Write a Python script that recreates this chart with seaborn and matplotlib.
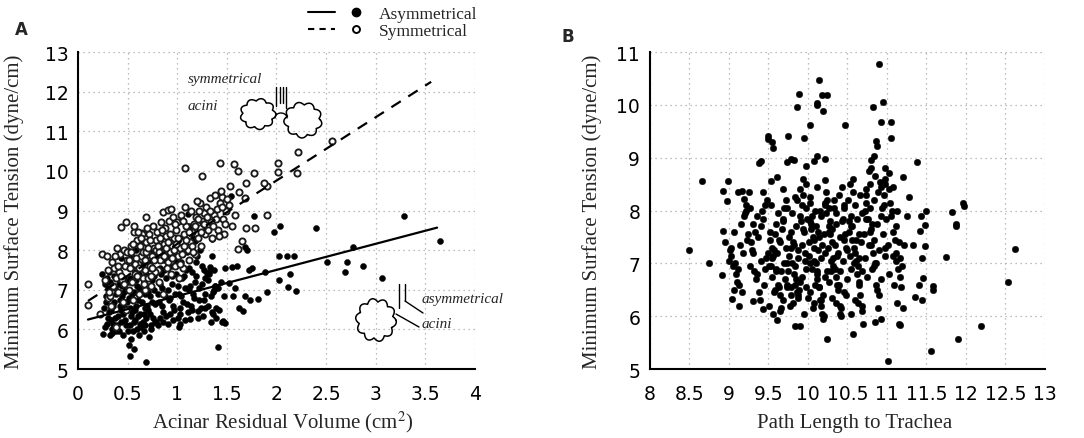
import numpy as np
import matplotlib
matplotlib.use("Agg")
import matplotlib.pyplot as plt
import seaborn as sns
from matplotlib.lines import Line2D
from matplotlib.legend_handler import HandlerTuple

# ---------------- Panel A: acinar residual volume vs minimum surface tension
# asymmetrical acini (filled dots)
asym_volume = [
    3.29, 3.65, 3.06, 2.87, 2.71, 2.69, 2.77, 2.51, 2.40, 2.20,
    2.12, 2.14, 2.03, 2.03, 2.11, 2.18, 2.04, 1.98, 1.90, 1.88,
    1.81, 1.77, 1.41, 0.69, 0.52,
    1.55, 1.60, 1.68, 1.70, 1.56, 1.46, 1.48, 1.66, 1.68, 1.73,
    1.38, 1.35, 1.36, 1.28, 1.21, 1.15, 1.13, 1.03, 1.03, 1.33,
    1.32, 1.30, 1.27, 1.35, 1.35, 1.18, 1.10, 1.11, 1.31, 1.55,
    1.54, 1.52, 1.58, 1.62, 1.75, 1.72,
    0.25, 0.27, 0.28, 0.24, 0.27, 0.30, 0.29,
    0.32, 0.34, 0.35, 0.33, 0.36, 0.38, 0.32, 0.36, 0.39, 0.37, 0.34, 0.39,
    0.41, 0.43, 0.45, 0.42, 0.47, 0.44, 0.48, 0.41, 0.46, 0.49, 0.43, 0.48, 0.45, 0.47,
    0.51, 0.53, 0.55, 0.52, 0.57, 0.54, 0.58, 0.51, 0.56, 0.59, 0.52, 0.57, 0.55, 0.53,
    0.58, 0.60, 0.56, 0.59,
    0.61, 0.63, 0.65, 0.62, 0.67, 0.64, 0.68, 0.61, 0.66, 0.69, 0.63, 0.67, 0.65, 0.62,
    0.69, 0.66,
    0.72, 0.74, 0.76, 0.71, 0.78, 0.73, 0.77, 0.75, 0.79, 0.72, 0.76, 0.74, 0.78,
    0.81, 0.83, 0.86, 0.82, 0.88, 0.85, 0.89, 0.83, 0.87, 0.84, 0.86,
    0.91, 0.93, 0.96, 0.92, 0.98, 0.95, 0.99, 0.94, 0.97, 0.92,
    1.01, 1.03, 1.06, 1.02, 1.08, 1.05, 1.09, 1.04, 1.07, 1.03,
    1.11, 1.14, 1.17, 1.12, 1.18, 1.15, 1.19, 1.13, 1.16,
    1.21, 1.24, 1.27, 1.22, 1.28, 1.25, 1.23, 1.26, 1.29,
    1.31, 1.34, 1.37, 1.32, 1.38, 1.36, 1.39,
    1.41, 1.44, 1.47, 1.42, 1.48, 1.45,
]
asym_tension = [
    8.86, 8.23, 7.30, 7.60, 7.70, 7.45, 8.07, 7.70, 8.56, 6.98,
    7.06, 7.40, 7.25, 7.86, 7.86, 7.86, 8.62, 8.46, 6.95, 7.45,
    6.77, 8.86, 5.56, 5.17, 5.33,
    7.58, 7.60, 8.08, 8.00, 6.84, 6.21, 6.17, 6.46, 6.85, 6.75,
    7.10, 6.44, 6.40, 6.90, 6.47, 6.50, 6.27, 6.39, 6.14, 7.58,
    7.45, 7.43, 7.50, 7.85, 8.28, 8.23, 7.95, 8.91, 8.91, 8.60,
    9.37, 7.18, 7.05, 6.55, 7.55, 7.50,
    5.88, 6.05, 6.70, 7.40, 7.15, 6.30, 7.30,
    5.85, 6.00, 6.15, 6.50, 6.70, 6.90, 7.20, 7.35, 7.50, 6.30, 5.90, 6.10,
    5.95, 6.20, 6.40, 6.60, 6.55, 6.85, 7.00, 7.15, 7.30, 7.60, 7.80, 6.10, 5.85, 8.00,
    5.60, 5.75, 5.95, 6.10, 6.25, 6.45, 6.60, 6.80, 6.95, 7.10, 7.30, 7.45, 7.70, 7.85,
    8.00, 6.35, 5.50, 6.00,
    5.85, 6.05, 6.20, 6.40, 6.55, 6.70, 6.90, 7.05, 7.20, 7.40, 7.60, 7.80, 8.10, 8.15,
    6.30, 5.95,
    5.80, 6.10, 6.30, 6.50, 6.65, 6.85, 7.00, 7.25, 7.45, 7.70, 7.95, 6.00, 6.20,
    6.10, 6.30, 6.45, 6.70, 6.85, 7.05, 7.30, 7.55, 7.75, 8.00, 6.20,
    6.15, 6.40, 6.60, 6.75, 6.90, 7.15, 7.40, 7.60, 7.90, 8.20,
    6.30, 6.55, 6.70, 6.90, 7.05, 7.30, 7.50, 7.70, 8.00, 8.30,
    6.45, 6.60, 6.80, 7.00, 7.20, 7.45, 7.70, 8.60, 8.30,
    6.30, 6.55, 6.75, 7.05, 7.30, 7.60, 8.00, 8.50, 8.95,
    6.60, 6.20, 7.00, 7.40, 7.10, 6.95, 6.55,
    7.05, 7.20, 6.85, 6.50, 7.55, 6.20,
]
# the dark core of the asymmetrical cloud
asym_core_volume = [
    0.26, 0.28, 0.30, 0.31, 0.33, 0.35, 0.37, 0.40, 0.42, 0.44, 0.29, 0.38, 0.43, 0.46, 0.31,
    0.47, 0.49, 0.50, 0.52, 0.54, 0.56, 0.58, 0.60, 0.62, 0.64,
    0.66, 0.68, 0.70, 0.50, 0.55, 0.61, 0.65, 0.67, 0.53, 0.57,
    0.71, 0.73, 0.75, 0.77, 0.79, 0.81, 0.83, 0.85, 0.87, 0.89,
    0.91, 0.93, 0.95, 0.97, 0.99, 0.72, 0.78, 0.84, 0.90, 0.96,
    1.01, 1.04, 1.07, 1.10, 1.13, 1.16, 1.19, 1.22, 1.25, 1.28,
    1.31, 1.34, 1.37, 1.05, 1.12, 1.20, 1.26, 1.02, 1.08, 1.39,
]
asym_core_tension = [
    6.55, 6.85, 7.05, 6.45, 6.25, 6.60, 7.05, 6.35, 6.75, 7.10, 6.15, 5.95, 6.50, 6.95, 7.45,
    6.25, 6.70, 7.20, 6.55, 6.90, 6.20, 7.25, 6.75, 6.15, 6.95,
    6.40, 7.15, 6.60, 5.95, 7.60, 7.40, 7.65, 6.10, 6.35, 6.50,
    6.95, 6.40, 6.70, 7.35, 6.20, 6.90, 7.15, 6.60, 7.50, 6.35,
    7.00, 6.80, 7.35, 6.50, 7.70, 7.55, 7.85, 7.40, 7.85, 6.25,
    7.10, 6.85, 7.35, 6.65, 7.10, 6.90, 7.35, 6.75, 7.15, 6.55,
    7.25, 6.85, 7.50, 7.90, 7.55, 7.85, 6.35, 6.05, 6.25, 6.30,
]

# symmetrical acini (open circles)
sym_volume = [
    2.56, 2.22, 2.02, 2.02, 2.21, 1.90, 1.87, 1.77, 1.69, 1.57,
    1.61, 1.43, 1.25, 1.08, 1.53, 1.62, 1.68, 1.45, 1.33, 1.90,
    1.23, 0.86, 0.91, 0.69, 1.69, 1.78, 1.65, 1.61, 0.43, 0.48,
    0.56, 0.64, 0.24, 0.29, 0.10, 0.10, 0.22, 0.30,
    0.32, 0.35, 0.38, 0.41, 0.44, 0.47, 0.36, 0.42, 0.46, 0.49, 0.33, 0.40, 0.45, 0.48, 0.38,
    0.51, 0.54, 0.57, 0.60, 0.63, 0.66, 0.69, 0.52, 0.58, 0.62, 0.65, 0.68, 0.55, 0.61,
    0.67, 0.64, 0.53, 0.59,
    0.71, 0.73, 0.75, 0.77, 0.79, 0.81, 0.83, 0.85, 0.87, 0.89, 0.72, 0.76, 0.80, 0.84,
    0.88, 0.74, 0.82, 0.86, 0.78,
    0.91, 0.93, 0.95, 0.97, 0.99, 1.01, 1.03, 1.05, 1.07, 1.09, 0.92, 0.96, 1.00, 1.04,
    0.94, 0.98, 1.02, 1.06, 1.08,
    1.11, 1.13, 1.15, 1.17, 1.19, 1.21, 1.23, 1.25, 1.27, 1.29, 1.12, 1.18, 1.24, 1.14,
    1.20, 1.28,
    1.31, 1.34, 1.37, 1.40, 1.43, 1.46, 1.49, 1.52, 1.55, 1.58, 1.35, 1.41, 1.47, 1.38,
    1.44, 1.50,
]
sym_tension = [
    10.76, 10.47, 10.20, 9.97, 9.95, 9.61, 9.70, 9.95, 9.70, 10.17,
    10.00, 10.20, 9.87, 10.07, 9.61, 9.47, 9.32, 9.35, 9.32, 8.89,
    9.19, 8.96, 9.02, 8.83, 8.56, 8.56, 8.23, 8.03, 8.59, 8.71,
    8.46, 8.43, 7.90, 7.85, 7.15, 6.62, 6.39, 6.80,
    6.85, 7.10, 7.30, 7.45, 7.25, 7.60, 7.55, 7.90, 8.00, 7.75, 6.60, 6.95, 6.70, 6.50, 6.05,
    7.00, 7.20, 7.40, 7.65, 7.85, 8.05, 8.20, 7.55, 7.80, 8.10, 7.30, 7.50, 6.75, 6.90,
    7.00, 8.40, 8.10, 8.25,
    7.30, 7.60, 7.85, 8.05, 8.25, 7.50, 7.75, 7.95, 8.15, 8.35, 8.40, 8.60, 8.45, 8.70,
    8.55, 7.10, 7.20, 6.90, 7.45,
    7.70, 7.95, 8.10, 8.30, 8.50, 7.85, 8.05, 8.20, 8.40, 8.60, 8.75, 8.85, 8.70, 8.90,
    7.40, 7.60, 7.30, 7.55, 9.10,
    8.00, 8.20, 8.45, 8.65, 8.85, 8.30, 8.55, 8.75, 8.95, 9.10, 7.75, 7.90, 8.10, 9.00,
    9.25, 8.40,
    8.50, 8.70, 8.90, 9.05, 9.20, 8.80, 9.00, 9.15, 8.60, 8.90, 8.30, 8.50, 8.40, 9.40,
    9.50, 9.30,
]
sym_core_volume = [
    0.27, 0.30, 0.34, 0.37, 0.40, 0.43, 0.46, 0.49, 0.39, 0.31,
    0.51, 0.53, 0.55, 0.57, 0.59, 0.61, 0.63, 0.65, 0.67, 0.69,
    0.71, 0.73, 0.75, 0.77, 0.79, 0.60, 0.70, 0.56, 0.66, 0.74,
    0.81, 0.83, 0.85, 0.87, 0.89, 0.91, 0.93, 0.95, 0.97, 0.99,
    1.01, 1.03, 1.05, 1.07, 1.09, 0.82, 0.90, 0.98, 1.06, 0.94,
    1.12, 1.15, 1.18, 1.21, 1.24, 1.27, 1.30, 1.33, 1.36, 1.39,
    1.42, 1.45, 1.48, 1.16, 1.22,
]
sym_core_tension = [
    7.25, 7.50, 7.70, 7.85, 7.60, 7.35, 7.15, 7.95, 8.05, 6.95,
    7.75, 7.95, 8.15, 7.65, 7.35, 7.55, 8.30, 7.95, 7.75, 7.95,
    8.05, 8.25, 7.55, 7.75, 8.00, 8.45, 8.55, 8.60, 7.15, 7.35,
    8.10, 8.30, 8.50, 7.85, 8.05, 8.20, 8.40, 7.80, 8.00, 8.15,
    8.30, 7.65, 7.90, 8.10, 8.25, 7.95, 7.55, 8.65, 8.75, 9.05,
    8.45, 8.10, 8.60, 8.80, 8.45, 8.65, 8.85, 9.00, 8.60, 8.80,
    8.35, 9.10, 8.65, 7.95, 9.00,
]

# regression lines drawn in the original (end points)
asym_fit_volume = [0.10, 3.62]
asym_fit_tension = [6.25, 8.57]
sym_fit_volume = [0.10, 3.56]
sym_fit_tension = [6.72, 12.25]

a_xticks = [0, 0.5, 1, 1.5, 2, 2.5, 3, 3.5, 4]
a_xtick_labels = ["0", "0.5", "1", "1.5", "2", "2.5", "3", "3.5", "4"]
a_yticks = [5, 6, 7, 8, 9, 10, 11, 12, 13]

# ---------------- Panel B: path length to trachea vs minimum surface tension
path_length = [
    8.66, 8.92, 8.97, 8.99, 9.11, 9.17, 9.19, 9.22, 9.38, 9.40,
    9.43, 9.49, 9.50, 9.55, 9.56, 9.53, 9.61, 9.75, 9.73, 9.78,
    9.82, 9.86, 9.89, 9.94, 9.90, 9.95, 9.98, 10.03, 10.07, 10.12,
    10.11, 10.12, 10.14, 10.18, 10.19, 10.24, 10.22, 10.22, 10.47, 10.90,
    10.95, 10.82, 10.92, 11.05, 11.05, 10.86, 10.88, 10.83, 10.80, 11.38,
    11.20, 11.03, 10.97, 10.80, 11.82, 11.96, 11.98,
    8.49, 8.75, 8.91, 8.92, 9.04, 9.13, 9.30, 9.43, 9.61, 9.83,
    9.90, 10.24, 10.57, 10.85, 11.01, 11.16, 11.56, 11.90, 12.19, 12.53,
    12.62, 11.75, 11.58, 11.58, 11.87, 11.87, 11.48, 11.48, 11.44, 11.46,
    11.44, 11.40, 11.35, 11.33, 11.42, 11.43, 11.49,
    8.95, 9.00, 9.05, 9.08, 9.07, 9.10, 9.02, 9.15, 9.20, 9.18, 9.12, 9.23, 9.21,
    9.28, 9.30, 9.32, 9.35, 9.38, 9.40, 9.42, 9.45, 9.47, 9.33, 9.44, 9.36, 9.48, 9.27,
    9.52, 9.55, 9.57, 9.60, 9.62, 9.58, 9.65, 9.68, 9.70, 9.72, 9.74, 9.53, 9.63, 9.66,
    9.51, 9.59, 9.69, 9.71, 9.56, 9.73,
    9.76, 9.78, 9.80, 9.82, 9.84, 9.86, 9.88, 9.90, 9.92, 9.94, 9.96, 9.98, 9.77, 9.79,
    9.81, 9.83, 9.85, 9.87, 9.89, 9.91, 9.95, 9.97,
    10.02, 10.04, 10.06, 10.08, 10.10, 10.12, 10.14, 10.16, 10.18, 10.20, 10.22, 10.24,
    10.03, 10.05, 10.07, 10.09, 10.11, 10.13, 10.15, 10.17, 10.19, 10.21, 10.23, 10.01,
    10.26, 10.28, 10.30, 10.32, 10.34, 10.36, 10.38, 10.40, 10.42, 10.44, 10.46, 10.48,
    10.27, 10.29, 10.31, 10.33, 10.35, 10.37, 10.39, 10.41, 10.43,
    10.52, 10.54, 10.56, 10.58, 10.60, 10.62, 10.64, 10.66, 10.68, 10.70, 10.72, 10.74,
    10.53, 10.57, 10.61, 10.65, 10.69, 10.73, 10.55, 10.63,
    10.76, 10.78, 10.80, 10.82, 10.84, 10.86, 10.88, 10.90, 10.92, 10.94, 10.96, 10.98,
    10.77, 10.81, 10.85, 10.89, 10.93, 10.97,
    11.02, 11.04, 11.06, 11.08, 11.10, 11.12, 11.14, 11.16, 11.18, 11.20, 11.15, 11.22,
    11.25, 11.28, 11.11, 11.13, 11.07,
]
path_tension = [
    8.56, 8.37, 8.18, 8.56, 8.35, 8.37, 8.22, 7.99, 8.90, 8.93,
    8.35, 9.41, 9.35, 9.30, 9.18, 8.56, 8.63, 9.41, 8.92, 8.98,
    8.96, 9.96, 10.21, 8.60, 8.40, 9.37, 8.85, 9.62, 8.93, 9.03,
    10.00, 10.03, 10.47, 10.19, 9.89, 10.19, 8.98, 8.57, 9.62, 10.77,
    10.06, 9.97, 9.68, 9.68, 9.37, 9.32, 9.23, 9.03, 8.95, 8.92,
    8.63, 8.72, 8.50, 8.80, 7.97, 8.14, 8.08,
    7.25, 7.00, 6.78, 7.62, 6.33, 6.19, 6.29, 6.14, 5.93, 5.82,
    5.82, 5.57, 5.66, 5.89, 5.15, 5.84, 5.34, 5.57, 5.81, 6.65,
    7.27, 7.12, 6.58, 6.50, 7.75, 7.70, 7.72, 7.33, 7.10, 6.73,
    6.30, 6.60, 6.37, 7.35, 7.62, 7.90, 8.00,
    7.40, 7.05, 6.95, 7.00, 6.50, 6.65, 7.30, 7.75, 7.95, 7.20, 6.90, 7.45, 8.10,
    7.40, 7.20, 6.85, 6.80, 6.45, 7.70, 8.00, 8.10, 7.10, 7.60, 6.60, 7.90, 8.20, 8.05,
    7.60, 7.30, 7.25, 6.85, 6.60, 6.50, 6.40, 7.85, 8.05, 8.20, 7.00, 6.95, 7.45, 6.15,
    6.20, 7.75, 8.40, 6.70, 7.15, 6.55,
    7.50, 7.30, 7.00, 6.80, 6.60, 6.45, 6.35, 7.90, 8.10, 7.65, 7.20, 6.90, 6.20, 6.40,
    7.40, 8.25, 6.70, 7.10, 6.50, 7.80, 6.05, 8.50,
    7.80, 7.75, 7.50, 7.30, 7.00, 6.70, 6.55, 6.30, 6.05, 6.00, 8.10, 8.20,
    8.15, 7.90, 7.05, 6.60, 6.85, 7.60, 8.00, 6.20, 5.95, 7.20, 8.35, 7.40,
    7.60, 7.55, 7.40, 7.10, 6.90, 6.75, 6.50, 6.20, 6.00, 7.85, 8.05, 7.30,
    7.70, 6.85, 6.35, 8.20, 7.95, 7.15, 6.60, 6.05, 8.45,
    7.80, 7.70, 7.45, 7.30, 7.20, 6.80, 6.65, 6.40, 6.10, 5.85, 8.00, 8.30,
    8.50, 8.60, 7.05, 7.55, 6.20, 8.15, 7.90, 6.95,
    7.85, 7.60, 7.35, 7.20, 6.95, 6.60, 6.50, 6.40, 5.95, 8.05, 8.30, 8.60,
    8.75, 7.75, 7.00, 6.15, 8.45, 7.30,
    8.40, 8.15, 8.00, 7.60, 7.45, 7.20, 6.90, 6.75, 6.55, 6.15, 5.85, 7.35,
    7.90, 8.25, 7.05, 6.25, 8.45,
]
# the crowded middle of panel B
path_core_length = [
    9.03, 9.06, 9.09, 9.14, 9.16, 9.19, 9.24, 9.26, 9.29, 9.31,
    9.34, 9.37, 9.39, 9.41, 9.43, 9.46, 9.49, 9.01, 9.13, 9.25,
    9.51, 9.52, 9.54, 9.55, 9.57, 9.58, 9.60, 9.61, 9.63, 9.64,
    9.66, 9.67, 9.69, 9.70, 9.72, 9.73, 9.75, 9.76, 9.78, 9.79,
    9.81, 9.82, 9.84, 9.85, 9.87, 9.88, 9.90, 9.53, 9.62, 9.68,
    9.74, 9.80, 9.86, 9.56, 9.65,
    9.92, 9.93, 9.95, 9.96, 9.98, 9.99, 10.01, 10.02, 10.04, 10.05,
    10.07, 10.08, 10.10, 10.11, 10.13, 10.14, 10.16, 10.17, 10.19, 10.20,
    10.22, 10.23, 10.25, 10.26, 10.28, 10.29, 9.94, 9.97, 10.00, 10.03,
    10.06, 10.09, 10.12, 10.15, 10.18, 10.21, 10.24, 10.27, 10.02, 10.14,
    10.31, 10.32, 10.34, 10.35, 10.37, 10.38, 10.40, 10.41, 10.43, 10.44,
    10.46, 10.47, 10.49, 10.50, 10.52, 10.53, 10.55, 10.56, 10.58, 10.59,
    10.61, 10.62, 10.64, 10.65, 10.67, 10.68, 10.33, 10.36, 10.39, 10.42,
    10.45, 10.48, 10.51, 10.54, 10.57, 10.60, 10.63, 10.66, 10.69, 10.45,
    10.71, 10.72, 10.74, 10.75, 10.77, 10.78, 10.80, 10.81, 10.83, 10.84,
    10.86, 10.87, 10.89, 10.90, 10.92, 10.93, 10.95, 10.96, 10.98, 10.99,
    11.01, 11.03, 11.05, 11.07, 11.09, 11.11, 11.13, 11.15, 11.17, 11.19,
    10.73, 10.79, 10.85, 10.91, 10.97,
]
path_core_tension = [
    7.15, 7.60, 6.80, 7.35, 6.45, 7.90, 7.55, 6.95, 7.25, 7.75,
    6.70, 7.50, 6.30, 7.05, 7.85, 6.90, 7.20, 7.25, 6.60, 8.35,
    6.95, 7.45, 6.75, 7.10, 6.45, 7.55, 6.90, 7.20, 6.55, 7.40,
    6.85, 7.65, 6.30, 7.00, 7.30, 6.60, 6.85, 7.15, 6.55, 7.60,
    6.25, 7.35, 6.95, 7.70, 6.40, 7.25, 6.65, 8.10, 7.95, 7.80,
    8.05, 7.95, 8.20, 6.05, 6.10,
    7.35, 6.75, 7.60, 7.05, 6.55, 7.85, 7.15, 6.45, 7.65, 6.90,
    7.45, 6.25, 7.70, 6.80, 7.25, 6.55, 7.90, 7.10, 6.40, 7.55,
    6.75, 7.95, 7.30, 6.65, 7.80, 7.05, 8.30, 8.05, 6.35, 8.25,
    6.15, 8.00, 8.45, 6.30, 7.35, 8.15, 6.85, 8.05, 7.00, 7.50,
    7.65, 6.95, 7.35, 7.75, 6.60, 7.20, 7.50, 6.85, 7.80, 7.05,
    6.45, 7.55, 7.25, 6.70, 7.60, 7.15, 6.90, 7.70, 7.00, 6.30,
    7.45, 7.85, 7.10, 6.60, 7.40, 7.95, 8.05, 6.25, 8.30, 6.15,
    8.10, 6.40, 8.20, 6.05, 8.35, 8.10, 6.25, 8.30, 6.85, 7.45,
    7.55, 7.10, 7.85, 6.75, 7.35, 8.05, 7.65, 6.90, 7.45, 8.20,
    7.00, 7.75, 8.35, 7.25, 7.90, 6.70, 7.55, 8.10, 7.15, 7.85,
    7.35, 6.80, 7.90, 7.15, 6.60, 7.70, 8.00, 7.40, 7.10, 6.95,
    8.40, 8.50, 8.65, 8.55, 8.80,
]

b_xticks = [8, 8.5, 9, 9.5, 10, 10.5, 11, 11.5, 12, 12.5, 13]
b_xtick_labels = ["8", "8.5", "9", "9.5", "10", "10.5", "11", "11.5", "12", "12.5", "13"]
b_yticks = [5, 6, 7, 8, 9, 10, 11]

sns.set_theme(style="white")
plt.rcParams["font.family"] = ["DejaVu Sans"]
plt.rcParams["mathtext.fontset"] = "stix"

SERIF = ["Liberation Serif", "DejaVu Serif"]
GRID = dict(linestyle=(0, (1, 3)), color="#a8a8a8", linewidth=0.9)


def style_axes(ax, xticks, xlabels, yticks):
    ax.set_xticks(xticks)
    ax.set_xticklabels(xlabels)
    ax.set_yticks(yticks)
    ax.set_yticklabels([str(t) for t in yticks])
    ax.grid(True, **GRID)
    for side in ["top", "right"]:
        ax.spines[side].set_visible(False)
    for side in ["left", "bottom"]:
        ax.spines[side].set_color("black")
        ax.spines[side].set_linewidth(1.5)
    ax.tick_params(axis="both", direction="in", length=7, width=1.5,
                   colors="black", labelsize=13.5)
    ax.tick_params(axis="x", pad=11)
    ax.tick_params(axis="y", pad=7)


def cloud(ax, cx, cy, rx, ry, bumps=9, start=0.0):
    t = np.linspace(0, 2 * np.pi, 600)
    r = 1 + 0.2 * np.abs(np.sin(bumps * (t + start) / 2))
    ax.plot(cx + rx * r * np.cos(t), cy + ry * r * np.sin(t),
            color="black", lw=1.1)


fig = plt.figure(figsize=(10.84, 4.39), dpi=100)
ax_a = fig.add_axes([0.072, 0.157, 0.366, 0.722])
ax_b = fig.add_axes([0.5996, 0.157, 0.3644, 0.722])

# panel A: filled dots first, open rings drawn over them as in the original
open_kw = dict(marker="o", s=20, facecolor="white", edgecolor="#1a1a1a",
               linewidth=1.35)
dot_kw = dict(marker="o", s=19, color="black", edgecolor="black", linewidth=0.3)
sns.scatterplot(x=asym_volume, y=asym_tension, ax=ax_a, zorder=3, **dot_kw)
sns.scatterplot(x=asym_core_volume, y=asym_core_tension, ax=ax_a, zorder=3, **dot_kw)
sns.scatterplot(x=sym_volume, y=sym_tension, ax=ax_a, zorder=4, **open_kw)
sns.scatterplot(x=sym_core_volume, y=sym_core_tension, ax=ax_a, zorder=4, **open_kw)
sns.lineplot(x=asym_fit_volume, y=asym_fit_tension, ax=ax_a, color="black",
             lw=1.6, zorder=5)
sns.lineplot(x=sym_fit_volume, y=sym_fit_tension, ax=ax_a, color="black",
             lw=1.6, linestyle=(0, (5, 4)), zorder=5)
ax_a.set_xlim(0, 4)
ax_a.set_ylim(5, 13)
style_axes(ax_a, a_xticks, a_xtick_labels, a_yticks)
ax_a.set_xlabel("Acinar Residual Volume (cm$^{2}$)", family=SERIF, fontsize=15)
ax_a.set_ylabel("Minimum Surface Tension (dyne/cm)", family=SERIF, fontsize=15)
ax_a.xaxis.set_label_coords(0.517, -0.125)
ax_a.yaxis.set_label_coords(-0.137, 0.5)

# panel B
b_kw = dict(marker="o", s=22, color="black", edgecolor="black", linewidth=0.3)
sns.scatterplot(x=path_length, y=path_tension, ax=ax_b, zorder=4, **b_kw)
sns.scatterplot(x=path_core_length, y=path_core_tension, ax=ax_b, zorder=4, **b_kw)
ax_b.set_xlim(8, 13)
ax_b.set_ylim(5, 11)
style_axes(ax_b, b_xticks, b_xtick_labels, b_yticks)
ax_b.set_xlabel("Path Length to Trachea", family=SERIF, fontsize=15)
ax_b.set_ylabel("Minimum Surface Tension (dyne/cm)", family=SERIF, fontsize=15)
ax_b.xaxis.set_label_coords(0.519, -0.14)
ax_b.yaxis.set_label_coords(-0.122, 0.5)

# panel letters
fig.text(0.014, 0.932, "A", fontsize=12, fontweight="bold", va="center")
fig.text(0.518, 0.916, "B", fontsize=12, fontweight="bold", va="center")

# legend above panel A
h_asym = (Line2D([], [], color="black", lw=1.5),
          Line2D([], [], color="black", marker="o", ls="", markersize=6))
h_sym = (Line2D([], [], color="black", lw=1.5, ls=(0, (3, 2.5))),
         Line2D([], [], color="black", marker="o", ls="", markersize=5,
                markerfacecolor="white", markeredgewidth=1.4))
fig.legend([h_asym, h_sym], ["Asymmetrical", "Symmetrical"],
           handler_map={tuple: HandlerTuple(ndivide=None, pad=0.4)},
           loc="upper center", bbox_to_anchor=(0.362, 1.02), frameon=False,
           handlelength=3.6, handletextpad=0.5, labelspacing=0.05,
           prop={"family": SERIF, "size": 12.5})

# acinus sketches drawn in pixel space on an overlay
ov = fig.add_axes([0, 0, 1, 1], facecolor="none")
ov.set_xlim(0, 1084)
ov.set_ylim(439, 0)
ov.axis("off")

ov.text(188, 83, "symmetrical", family=SERIF, style="italic", fontsize=11,
        va="baseline")
ov.text(188, 110, "acini", family=SERIF, style="italic", fontsize=11,
        va="baseline")
cloud(ov, 258, 115, 15, 13, bumps=9, start=0.3)
cloud(ov, 303, 121, 16, 15, bumps=9, start=0.1)
for xx, y0 in [(276, 107), (279.5, 104), (282.5, 104), (286, 109)]:
    ov.plot([xx, xx], [88, y0], color="black", lw=1.0)
bt = np.linspace(0, np.pi, 50)
ov.plot(281 + 6 * np.cos(bt), 119 - 5 * np.sin(bt), color="black", lw=1.0)

ov.text(422, 303, "asymmetrical", family=SERIF, style="italic", fontsize=11,
        va="baseline")
ov.text(422, 328, "acini", family=SERIF, style="italic", fontsize=11,
        va="baseline")
cloud(ov, 376, 321, 17, 18, bumps=10, start=0.2)
ov.plot([399, 399], [285, 309], color="black", lw=1.0)
ov.plot([405, 405], [285, 302], color="black", lw=1.0)
ov.plot([405, 423], [302, 314], color="black", lw=1.0)
ov.plot([396, 419], [315, 328], color="black", lw=1.0)

fig.savefig("out.png", dpi=100, facecolor="white")
